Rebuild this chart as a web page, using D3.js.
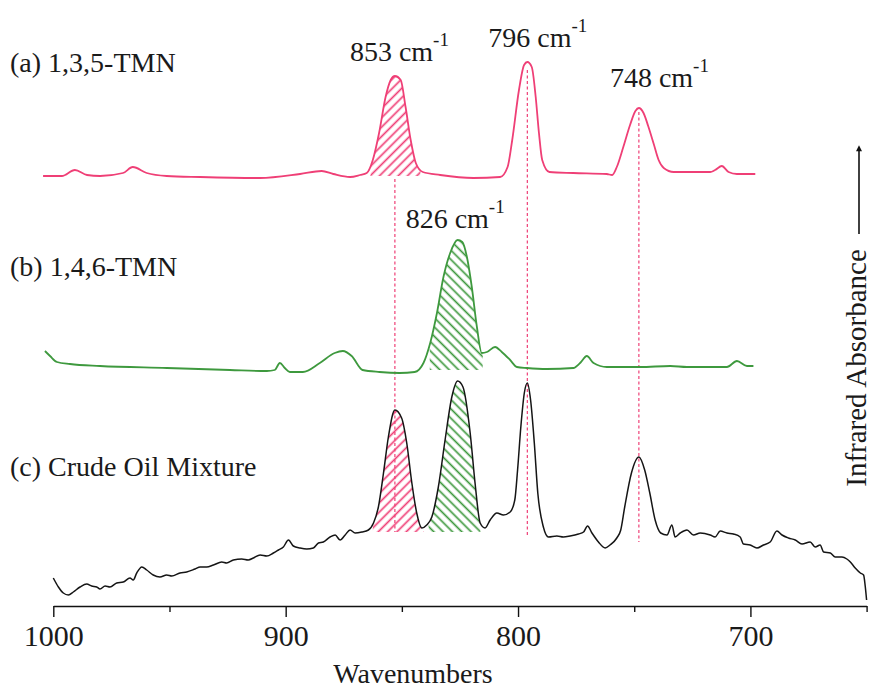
<!DOCTYPE html>
<html>
<head>
<meta charset="utf-8">
<script src="https://cdn.jsdelivr.net/npm/d3@7"></script>
<style>
  html, body { margin: 0; padding: 0; background: #ffffff; }
  svg { display: block; }
  text { font-family: "Liberation Serif", "Times New Roman", "DejaVu Serif", serif; fill: #1a1a1a; }
</style>
</head>
<body>
<svg id="chart" width="871" height="690"></svg>
<script>
// Wavenumber axis (cm^-1), decreasing to the right
const majorTicks = [1000, 900, 800, 700];
const minorTicks = [950, 850, 750, 650];

// Spectrum (a): 1,3,5-TMN  [wavenumber, absorbance above its baseline]
const spectrumA = [
  [1004.4,0.00],[996.3,0.00],[990.7,0.06],[985.5,0.01],[979.9,0.00],[970.0,0.03],[965.8,0.09],
  [959.8,0.03],[951.2,0.00],[936.8,-0.01],[911.0,-0.02],[893.8,0.02],[884.5,0.05],[879.5,0.02],
  [872.3,-0.01],[868.0,0.01],[865.1,0.03],[862.5,0.16],[859.8,0.43],[857.0,0.79],[854.8,0.96],
  [853.0,1.00],[850.5,0.96],[848.4,0.69],[846.2,0.36],[844.0,0.13],[841.0,0.04],[833.5,0.01],
  [819.2,-0.02],[807.7,-0.01],[804.5,0.09],[802.5,0.36],[799.6,0.86],[797.4,1.11],[796.0,1.14],
  [794.1,1.09],[792.4,0.79],[791.0,0.43],[789.6,0.16],[786.5,0.04],[776.2,0.03],[761.8,0.02],
  [759.5,0.01],[757.5,0.09],[754.7,0.29],[751.8,0.51],[749.5,0.65],[748.0,0.68],[746.0,0.63],
  [744.0,0.50],[741.6,0.32],[739.5,0.16],[737.3,0.08],[733.0,0.04],[717.3,0.04],[715.2,0.06],
  [712.3,0.10],[709.4,0.04],[705.8,0.02],[697.9,0.02]
];

// Spectrum (b): 1,4,6-TMN
const spectrumB = [
  [1003.6,0.17],[1001.4,0.12],[998.4,0.06],[992.8,0.04],[979.9,0.02],[951.1,0.00],[924.0,-0.02],
  [908.1,-0.03],[904.7,-0.02],[902.5,0.05],[900.4,0.00],[898.2,-0.04],[892.6,-0.04],[885.3,0.05],
  [878.9,0.15],[875.4,0.17],[871.6,0.12],[866.9,-0.02],[859.6,-0.04],[851.0,-0.05],[844.5,-0.04],
  [840.7,0.05],[837.8,0.25],[834.9,0.55],[832.1,0.91],[829.2,1.15],[826.0,1.28],[824.0,1.26],
  [822.0,1.11],[819.9,0.81],[817.7,0.41],[815.6,0.15],[813.4,0.16],[809.9,0.21],[807.0,0.16],
  [803.4,0.08],[800.5,0.01],[796.2,0.00],[787.6,-0.01],[776.2,0.00],[773.3,0.05],[770.4,0.12],
  [767.5,0.05],[761.8,0.01],[747.4,0.01],[734.5,0.02],[727.3,0.01],[710.1,0.01],[705.8,0.07],
  [701.5,0.02],[698.7,0.02]
];

// Spectrum (c): crude oil mixture
const spectrumC = [
  [1000.0,0.28],[997.8,0.19],[995.7,0.13],[993.5,0.11],[991.4,0.14],[988.5,0.19],[985.6,0.22],
  [983.5,0.20],[981.3,0.19],[979.9,0.17],[977.7,0.20],[975.6,0.19],[972.7,0.23],[969.9,0.24],
  [967.0,0.28],[965.6,0.26],[964.1,0.33],[961.9,0.39],[959.8,0.36],[957.0,0.31],[954.1,0.29],
  [951.2,0.31],[949.0,0.30],[945.5,0.33],[942.6,0.34],[939.0,0.37],[936.8,0.39],[934.0,0.39],
  [931.1,0.41],[927.5,0.44],[925.4,0.43],[922.5,0.46],[918.9,0.47],[916.1,0.46],[913.9,0.48],
  [911.0,0.51],[908.1,0.50],[905.3,0.53],[903.1,0.56],[901.0,0.59],[898.8,0.66],[896.7,0.60],
  [893.8,0.58],[890.9,0.57],[888.1,0.58],[885.9,0.63],[883.8,0.64],[880.9,0.69],[878.7,0.71],
  [876.6,0.66],[874.4,0.71],[872.3,0.76],[870.1,0.73],[867.2,0.74],[864.4,0.76],[862.2,0.83],
  [860.1,0.99],[857.9,1.33],[855.8,1.69],[853.0,1.96],[850.1,1.88],[847.9,1.63],[845.7,1.23],
  [843.6,0.93],[841.4,0.78],[839.3,0.81],[837.1,0.89],[834.3,1.19],[831.4,1.66],[828.5,2.09],
  [826.0,2.25],[823.7,2.19],[820.6,1.73],[818.5,1.23],[816.3,0.83],[814.2,0.78],[812.0,0.86],
  [809.1,0.93],[806.3,0.91],[803.4,0.94],[801.4,1.06],[800.2,1.36],[798.8,1.79],[797.3,2.13],
  [796.0,2.23],[794.6,2.06],[793.0,1.63],[791.5,1.13],[789.1,0.79],[786.9,0.69],[783.3,0.70],
  [780.5,0.69],[777.6,0.70],[774.0,0.72],[771.8,0.74],[770.1,0.80],[768.2,0.73],[765.4,0.64],
  [762.5,0.58],[760.4,0.61],[757.5,0.68],[755.8,0.76],[754.1,0.99],[751.2,1.33],[748.0,1.49],
  [745.5,1.36],[743.3,1.13],[741.0,0.86],[738.6,0.73],[735.9,0.71],[733.8,0.81],[732.4,0.69],
  [730.2,0.73],[727.3,0.76],[724.5,0.71],[721.6,0.73],[717.3,0.71],[715.2,0.69],[713.0,0.75],
  [710.1,0.73],[707.3,0.72],[704.4,0.69],[703.0,0.62],[700.1,0.61],[697.2,0.58],[694.4,0.61],
  [691.5,0.64],[688.6,0.75],[686.4,0.71],[683.6,0.68],[680.7,0.66],[677.8,0.62],[674.3,0.64],
  [672.1,0.59],[670.0,0.61],[668.5,0.54],[665.6,0.53],[663.5,0.49],[660.6,0.49],[658.5,0.47],
  [657.0,0.44],[654.9,0.38],[652.7,0.33],[651.3,0.31],[650.6,0.20],[650.0,0.06]
];

// Vertical offsets of the stacked spectra (absorbance units)
const traceNames = ["(a) 1,3,5-TMN", "(b) 1,4,6-TMN", "(c) Crude Oil Mixture"];
const traceOffsets = [4.30, 2.38, 0.0];
const traceColors = ["#ef3f76", "#3e993e", "#151515"];

// Assigned bands and their labels
const bandValues = [853, 796, 748, 826];
const bandLabels = ["853 cm", "796 cm", "748 cm", "826 cm"];
// dotted guides: [wavenumber, upper absorbance, lower absorbance]
const guideLines = [[853, 4.27, 0.74], [796, 5.36, 0.69], [748, 4.94, 0.64]];

// Hatched integration windows: [trace index, from wn, to wn, baseline, colour index]
const hatchWindows = [
  [0, 863.5, 842.0, 0.00, 0],
  [1, 838.0, 815.2, -0.02, 1],
  [2, 862.5, 840.5, 0.74, 0],
  [2, 838.5, 816.2, 0.74, 1]
];

const svg = d3.select("#chart");
const x = d3.scaleLinear().domain([1000, 650]).range([53.3, 866.6]);
const y = d3.scaleLinear().domain([0, 6]).range([606, 6]);
const spectra = [spectrumA, spectrumB, spectrumC];

// hatch patterns
const defs = svg.append("defs");
function hatch(id, color, angle) {
  const p = defs.append("pattern").attr("id", id)
    .attr("patternUnits", "userSpaceOnUse").attr("width", 6.6).attr("height", 6.6)
    .attr("patternTransform", `rotate(${angle})`);
  p.append("line").attr("x1", 3.3).attr("y1", -1).attr("x2", 3.3).attr("y2", 7.6)
    .attr("stroke", color).attr("stroke-width", 1.7);
}
hatch("hatch-pink", traceColors[0], 45);
hatch("hatch-green", traceColors[1], -45);
const hatchIds = ["hatch-pink", "hatch-green"];

// dotted guide lines
svg.append("g").selectAll("line").data(guideLines).join("line")
  .attr("x1", d => x(d[0])).attr("x2", d => x(d[0]))
  .attr("y1", d => y(d[1])).attr("y2", d => y(d[2]))
  .attr("stroke", traceColors[0]).attr("stroke-width", 1.2)
  .attr("stroke-dasharray", "3,2.5");

// hatched areas
hatchWindows.forEach((h, i) => {
  const [ti, from, to, base, ci] = h;
  const off = traceOffsets[ti];
  defs.append("clipPath").attr("id", "clip" + i)
    .append("rect").attr("x", x(from)).attr("width", x(to) - x(from))
    .attr("y", 0).attr("height", 690);
  const area = d3.area().curve(d3.curveMonotoneX)
    .x(d => x(d[0]))
    .y0(y(off + base))
    .y1(d => y(off + Math.max(d[1], base)));
  svg.append("path").datum(spectra[ti])
    .attr("d", area).attr("fill", `url(#${hatchIds[ci]})`)
    .attr("clip-path", `url(#clip${i})`);
});

// spectra
spectra.forEach((s, i) => {
  const line = d3.line().curve(d3.curveMonotoneX)
    .x(d => x(d[0])).y(d => y(traceOffsets[i] + d[1]));
  svg.append("path").datum(s).attr("d", line)
    .attr("fill", "none").attr("stroke", traceColors[i])
    .attr("stroke-width", i === 2 ? 1.5 : 1.8)
    .attr("stroke-linejoin", "round");
});

// trace titles
const titleY = [72, 276, 476];
svg.append("g").selectAll("text").data(traceNames).join("text")
  .attr("x", 10).attr("y", (d, i) => titleY[i])
  .attr("font-size", 28).text(d => d);

// band labels with superscript
const labelPos = [[-45, 61], [-39, 47], [-29, 87], [-52, 228]];
bandValues.forEach((v, i) => {
  const t = svg.append("text")
    .attr("x", x(v) + labelPos[i][0]).attr("y", labelPos[i][1])
    .attr("font-size", 28);
  t.append("tspan").text(bandLabels[i]);
  t.append("tspan").attr("dy", -15).attr("font-size", 19).text("-1");
});

// x axis
const axisY = y(0);
const gMajor = svg.append("g").attr("transform", `translate(0,${axisY})`)
  .call(d3.axisBottom(x).tickValues(majorTicks).tickSize(11).tickSizeOuter(0).tickPadding(8)
    .tickFormat(d3.format("d")));
gMajor.select(".domain").attr("stroke", "#111").attr("stroke-width", 1.6);
gMajor.selectAll(".tick line").attr("stroke", "#111").attr("stroke-width", 1.4);
gMajor.selectAll(".tick text").attr("font-size", 30)
  .attr("font-family", "Liberation Serif, Times New Roman, serif").attr("fill", "#1a1a1a");
const gMinor = svg.append("g").attr("transform", `translate(0,${axisY})`)
  .call(d3.axisBottom(x).tickValues(minorTicks).tickSize(6).tickSizeOuter(0).tickFormat(""));
gMinor.select(".domain").remove();
gMinor.selectAll(".tick line").attr("stroke", "#111").attr("stroke-width", 1.4);

svg.append("text").attr("x", 413).attr("y", 683).attr("text-anchor", "middle")
  .attr("font-size", 28).text("Wavenumbers");

// y label with arrow
svg.append("text")
  .attr("transform", "translate(866,368) rotate(-90)")
  .attr("text-anchor", "middle").attr("font-size", 29).text("Infrared Absorbance");
defs.append("marker").attr("id", "arrowhead").attr("viewBox", "0 0 10 10")
  .attr("refX", 2).attr("refY", 5).attr("markerWidth", 10).attr("markerHeight", 6)
  .attr("markerUnits", "userSpaceOnUse")
  .attr("orient", "auto")
  .append("path").attr("d", "M0,0 L10,5 L0,10 Z").attr("fill", "#111");
svg.append("line").attr("x1", 859).attr("x2", 859).attr("y1", 234).attr("y2", 150)
  .attr("stroke", "#111").attr("stroke-width", 1.6).attr("marker-end", "url(#arrowhead)");
</script>
</body>
</html>
